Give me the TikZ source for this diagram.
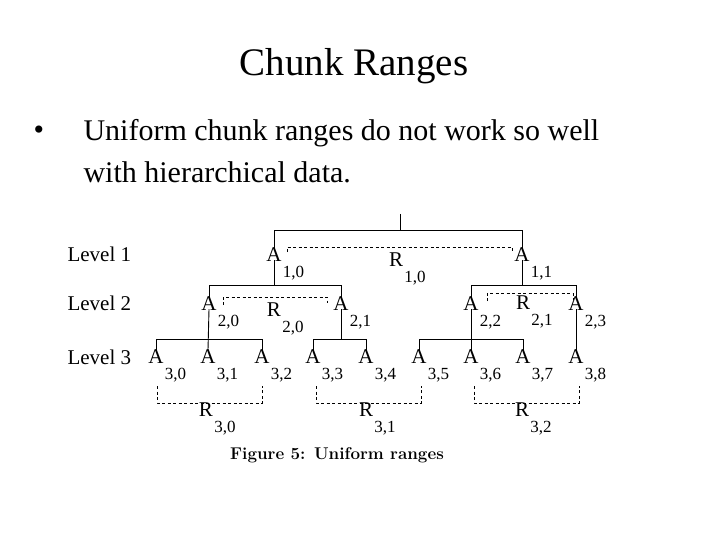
\documentclass[tikz,border=0pt]{standalone}
\usepackage{fontspec}
\setmainfont{Liberation Serif}
\newfontfamily\capfont{Latin Modern Roman}
\tikzset{
  lev/.style={anchor=west,font=\fontsize{21}{21}\selectfont},
  anode/.style={inner sep=0pt,font=\fontsize{21}{21}\selectfont},
  sub/.style={inner sep=0pt,font=\fontsize{17}{17}\selectfont},
  tree/.style={black,line width=0.9pt},
  rng/.style={black,line width=0.8pt,dash pattern=on 3pt off 2.5pt},
}
\begin{document}
\begin{tikzpicture}[x=1pt,y=-1pt]
  \useasboundingbox[fill=white] (0,0) rectangle (720,540);
  % title and text
  \node[font=\fontsize{39}{39}\selectfont] (title) at (354,66) {Chunk Ranges};
  \node[anchor=west,font=\fontsize{30}{30}\selectfont] (bul) at (30,133) {\textbullet};
  \node[anchor=west,font=\fontsize{30}{30}\selectfont] (line1) at (80,133) {Uniform chunk ranges do not work so well};
  \node[anchor=west,font=\fontsize{30}{30}\selectfont] (line2) at (80,172) {with hierarchical data.};

  % levels
  \node[lev] (lev1) at (64,254) {Level 1};
  \node[lev] (lev2) at (64,303) {Level 2};
  \node[lev] (lev3) at (64,357) {Level 3};

  % nodes
  \foreach \n/\x/\y/\s in {10/274/255/{1,0}, 11/522/255/{1,1},
      20/209/304/{2,0}, 21/341/304/{2,1}, 22/471/304/{2,2}, 23/576/304/{2,3},
      30/156/357/{3,0}, 31/208/357/{3,1}, 32/262/357/{3,2}, 33/313/357/{3,3},
      34/366/357/{3,4}, 35/419/357/{3,5}, 36/471/357/{3,6}, 37/523/357/{3,7},
      38/576/357/{3,8}}
  {
    \node[anode] (a\n) at (\x,\y) {A};
    \node[sub,anchor=north west] (s\n) at ([xshift=1pt,yshift=-4pt]a\n.south east) {\s};
  }

  % range labels
  \foreach \n/\x/\y/\s in {10/396/260/{1,0}, 20/274/310/{2,0}, 21/523/303/{2,1},
      30/206/410/{3,0}, 31/366/410/{3,1}, 32/522/410/{3,2}}
  {
    \node[anode] (r\n) at (\x,\y) {R};
    \node[sub,anchor=north west] at ([xshift=1pt,yshift=-4pt]r\n.south east) {\s};
  }

  % tree
  \coordinate (top) at (400,214);
  \coordinate (b1) at (400,230);
  \draw[tree] (top) -- (b1);
  \draw[tree] ([yshift=-2pt]a10.north) -- (a10.north|-b1) -- (a11.north|-b1) -- ([yshift=-2pt]a11.north);
  \coordinate (b2) at (0,285);
  \draw[tree] ([yshift=2pt]a10.south) -- (a10.south|-b2);
  \draw[tree] ([yshift=-2pt]a20.north) -- (a20.north|-b2) -- (a21.north|-b2) -- ([yshift=-2pt]a21.north);
  \draw[tree] ([yshift=2pt]a11.south) -- (a11.south|-b2);
  \draw[tree] ([yshift=-2pt]a22.north) -- (a22.north|-b2) -- (a23.north|-b2) -- ([yshift=-2pt]a23.north);
  \coordinate (b3) at (0,339);
  \draw[tree] ([yshift=2pt]a20.south) -- (a31.north);
  \draw[tree] ([yshift=-2pt]a30.north) -- (a30.north|-b3) -- (a32.north|-b3) -- ([yshift=-2pt]a32.north);
  \draw[tree] ([yshift=2pt]a21.south) -- (a21.south|-b3);
  \draw[tree] ([yshift=-2pt]a33.north) -- (a33.north|-b3) -- (a34.north|-b3) -- ([yshift=-2pt]a34.north);
  \draw[tree] ([yshift=2pt]a22.south) -- (a36.north);
  \draw[tree] ([yshift=-2pt]a35.north) -- (a35.north|-b3) -- (a37.north|-b3) -- ([yshift=-2pt]a37.north);
  \draw[tree] ([yshift=2pt]a23.south) -- (a38.north);

  % ranges
  \draw[rng] (287,252) -- (287,247) -- (512,247) -- (512,253);
  \draw[rng] (223,305) -- (223,297) -- (327,297) -- (327,303);
  \draw[rng] (487,301) -- (487,293) -- (573,293) -- (573,300);
  \draw[rng] (157,386) -- (157,403) -- (262,403) -- (262,386);
  \draw[rng] (316,386) -- (316,403) -- (421,403) -- (421,386);
  \draw[rng] (474,386) -- (474,403) -- (579,403) -- (579,386);

  % caption
  \node[font=\capfont\bfseries\fontsize{17}{17}\selectfont] (cap) at (337,455) {Figure 5: Uniform ranges};
\end{tikzpicture}
\end{document}
